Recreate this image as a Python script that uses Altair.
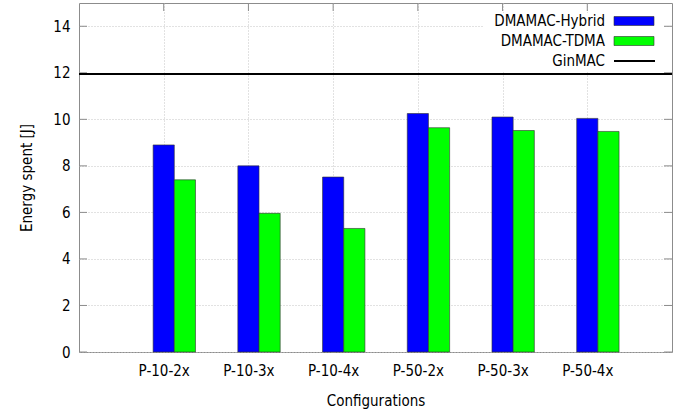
import json

import altair as alt
import pandas as pd

# Energy spent per configuration for each MAC protocol
configs = ["P-10-2x", "P-10-3x", "P-10-4x", "P-50-2x", "P-50-3x", "P-50-4x"]
hybrid = [8.9, 8.0, 7.52, 10.25, 10.1, 10.04]
tdma = [7.4, 5.96, 5.31, 9.64, 9.52, 9.48]
ginmac = 11.95
series_names = ["DMAMAC-Hybrid", "DMAMAC-TDMA"]
series_colors = ["#0000ff", "#00ff00"]
y_ticks = [0, 2, 4, 6, 8, 10, 12, 14]

rows = []
for i, cfg in enumerate(configs):
    rows.append({"config": cfg, "pos": i, "slot": 0, "series": series_names[0], "energy": hybrid[i]})
    rows.append({"config": cfg, "pos": i, "slot": 1, "series": series_names[1], "energy": tdma[i]})
bars_df = pd.DataFrame(rows)

W, H = 593, 349
BAR = 0.25
FONT = "'DejaVu Sans Condensed', 'DejaVu Sans', sans-serif"
BORDER = "#8c8c8c"
GRID = "#c4c4c4"

x_scale = alt.Scale(domain=[-1, 6], nice=False, zero=False)
y_scale = alt.Scale(domain=[0, 15], nice=False)

x_axis = alt.Axis(
    values=list(range(len(configs))),
    labelExpr=json.dumps(configs) + "[datum.value]",
    title="Configurations",
    grid=True, gridDash=[1, 2], gridColor=GRID,
    ticks=False, domain=False,
    labelPadding=11, titlePadding=15,
    labelFontSize=15, titleFontSize=15,
    labelFont=FONT, titleFont=FONT, labelColor="#000", titleColor="#000",
    titleFontWeight="normal",
)
y_axis = alt.Axis(
    values=y_ticks,
    title="Energy spent [J]",
    grid=True, gridDash=[1, 2], gridColor=GRID,
    ticks=False, domain=False,
    labelPadding=9, titlePadding=18,
    labelFontSize=15, titleFontSize=15,
    labelFont=FONT, titleFont=FONT, labelColor="#000", titleColor="#000",
    titleFontWeight="normal",
)

# inward tick marks on all sides of the frame
left_ticks = alt.Chart(pd.DataFrame({"v": y_ticks})).mark_rule(color=BORDER).encode(
    y=alt.Y("v:Q", scale=y_scale, axis=y_axis), x=alt.value(0), x2=alt.value(8)
)
right_ticks = alt.Chart(pd.DataFrame({"v": y_ticks})).mark_rule(color=BORDER).encode(
    y="v:Q", x=alt.value(W - 8), x2=alt.value(W)
)
top_ticks = alt.Chart(pd.DataFrame({"pos": list(range(len(configs)))})).mark_rule(color=BORDER).encode(
    x=alt.X("pos:Q", scale=x_scale, axis=x_axis), y=alt.value(0), y2=alt.value(8)
)

bars = alt.Chart(bars_df).transform_calculate(
    x0=f"datum.pos + datum.slot * {BAR} - {BAR / 2}",
    x1=f"datum.pos + datum.slot * {BAR} + {BAR / 2}",
).mark_bar(stroke="#303030", strokeWidth=1, strokeOpacity=0.6).encode(
    x=alt.X("x0:Q", scale=x_scale),
    x2="x1:Q",
    y=alt.Y("energy:Q", scale=y_scale),
    y2=alt.datum(0),
    color=alt.Color("series:N", scale=alt.Scale(domain=series_names, range=series_colors), legend=None),
)

gin_line = alt.Chart(pd.DataFrame({"energy": [ginmac]})).mark_rule(color="black", strokeWidth=2).encode(
    y=alt.Y("energy:Q", scale=y_scale)
)

# key in the upper right corner
legend_bg = alt.Chart(pd.DataFrame({"k": [0]})).mark_rect(color="white").encode(
    x=alt.value(404), x2=alt.value(584), y=alt.value(10), y2=alt.value(68)
)
legend_labels = series_names + ["GinMAC"]
legend_layers = [legend_bg]
for row, name in enumerate(legend_labels):
    cy = 18 + row * 20
    legend_layers.append(
        alt.Chart(pd.DataFrame({"label": [name]})).mark_text(
            align="right", baseline="middle", font=FONT, fontSize=15, color="black"
        ).encode(text="label:N", x=alt.value(526), y=alt.value(cy))
    )
    if row < len(series_names):
        legend_layers.append(
            alt.Chart(pd.DataFrame({"label": [name]})).mark_rect(
                stroke="#303030", strokeWidth=1, strokeOpacity=0.6
            ).encode(
                x=alt.value(535), x2=alt.value(575),
                y=alt.value(cy - 4.5), y2=alt.value(cy + 4.5),
                color=alt.value(series_colors[row]),
            )
        )
    else:
        legend_layers.append(
            alt.Chart(pd.DataFrame({"label": [name]})).mark_rule(color="black", strokeWidth=2).encode(
                x=alt.value(535), x2=alt.value(576), y=alt.value(cy)
            )
        )

chart = alt.layer(
    left_ticks, right_ticks, top_ticks, bars, gin_line, *legend_layers
).properties(
    width=W, height=H,
    autosize=alt.AutoSizeParams(type="none"),
    padding={"left": 79, "top": 3, "right": 14, "bottom": 62},
    background="white",
).configure_view(stroke=BORDER, strokeWidth=1)

chart.save("out.html", embed_options={"renderer": "svg", "actions": False})
